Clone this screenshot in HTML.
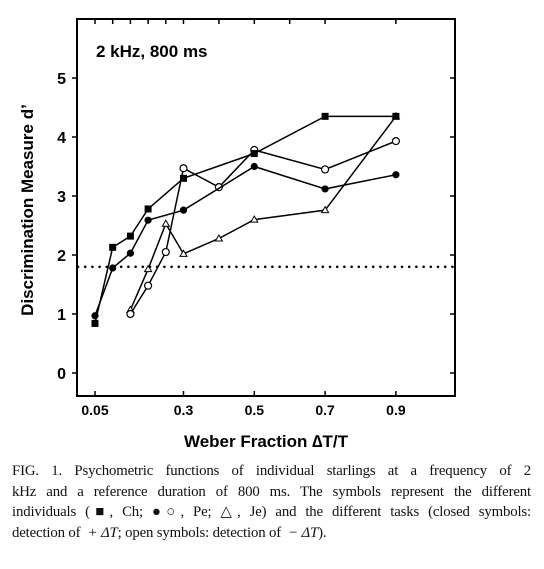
<!DOCTYPE html>
<html><head><meta charset="utf-8"><style>
body{margin:0;background:#fff;width:544px;height:569px;overflow:hidden;position:relative}
svg{position:absolute;left:0;top:0}
.cap{position:absolute;left:12px;top:461px;width:519px;font-family:"Liberation Serif",serif;font-size:14.8px;line-height:20.5px;color:#111}
.cap div{text-align:justify;text-align-last:justify;white-space:nowrap;letter-spacing:-0.15px}
.cap div.last{text-align-last:left}
</style></head><body>
<svg width="544" height="460" font-family="Liberation Sans, sans-serif">
<rect x="77" y="19" width="378" height="377" fill="none" stroke="#000" stroke-width="2"/>
<text x="96" y="57" font-size="17" font-weight="bold">2 kHz, 800 ms</text>
<text transform="translate(33,210) rotate(-90)" text-anchor="middle" font-size="17" font-weight="bold">Discrimination Measure d’</text>
<text x="266" y="447" text-anchor="middle" font-size="17" font-weight="bold">Weber Fraction ∆T/T</text>
<g id="g"></g>
</svg>
<div class="cap">
<div>FIG. 1. Psychometric functions of individual starlings at a frequency of 2</div>
<div>kHz and a reference duration of 800 ms. The symbols represent the different</div>
<div>individuals (■, Ch; ●○, Pe; △, Je) and the different tasks (closed symbols:</div>
<div class="last">detection of &nbsp;<i>+ ΔT</i>; open symbols: detection of &nbsp;<i>− ΔT</i>).</div>
</div>
<script>
const xTicks=[0.05,0.3,0.5,0.7,0.9];
const xTickLabels=["0.05","0.3","0.5","0.7","0.9"];
const topTicks=[0.05,0.1,0.15,0.2,0.25,0.3,0.4,0.5,0.6,0.7,0.9];
const yTicks=[0,1,2,3,4,5];
const chX=[0.05,0.1,0.15,0.2,0.3,0.5,0.7,0.9];
const chY=[0.84,2.13,2.32,2.78,3.30,3.72,4.35,4.35];
const peClosedX=[0.05,0.1,0.15,0.2,0.3,0.5,0.7,0.9];
const peClosedY=[0.97,1.78,2.03,2.59,2.76,3.5,3.12,3.36];
const peOpenX=[0.15,0.2,0.25,0.3,0.4,0.5,0.7,0.9];
const peOpenY=[1.0,1.48,2.05,3.47,3.15,3.78,3.45,3.93];
const jeX=[0.15,0.2,0.25,0.3,0.4,0.5,0.7,0.9];
const jeY=[1.07,1.76,2.53,2.02,2.28,2.6,2.76,4.35];
const threshold=1.8;
const sx=v=>95+(v-0.05)*354;
const sy=v=>373-59*v;
const g=document.getElementById('g');
const NS='http://www.w3.org/2000/svg';
function mk(t,a){const e=document.createElementNS(NS,t);for(const k in a)e.setAttribute(k,a[k]);g.appendChild(e);return e;}
xTicks.forEach((v,i)=>{
 const t=mk('line',{x1:sx(v),x2:sx(v),y1:396,y2:391,stroke:'#000','stroke-width':1.5});
 
 
 const l=mk('text',{x:sx(v),y:415,'text-anchor':'middle','font-size':14,'font-weight':'bold'});
 l.textContent=xTickLabels[i];
 
 
});
topTicks.forEach(v=>{
 const t=mk('line',{x1:sx(v),x2:sx(v),y1:19,y2:24,stroke:'#000','stroke-width':1.5});
 
 
});
yTicks.forEach(v=>{
 const t=mk('line',{x1:72,x2:77,y1:sy(v),y2:sy(v),stroke:'#000','stroke-width':1.5});
 
 
 const r=mk('line',{x1:450,x2:455,y1:sy(v),y2:sy(v),stroke:'#000','stroke-width':1.5});
 
 
 const l=mk('text',{x:66,y:sy(v)+6,'text-anchor':'end','font-size':16,'font-weight':'bold'});
 l.textContent=String(v);
 
 
});
const th=mk('line',{x1:78,x2:454,y1:sy(threshold),y2:sy(threshold),stroke:'#000','stroke-width':2.6,'stroke-dasharray':'0 7.2','stroke-linecap':'round'});


function series(xs,ys,name,marker){
 const p=mk('polyline',{points:xs.map((x,i)=>sx(x)+','+sy(ys[i])).join(' '),fill:'none',stroke:'#000','stroke-width':1.5});
 
 
 xs.forEach((x,i)=>{
  const cx=sx(x),cy=sy(ys[i]);let m;
  if(marker==='sq')m=mk('rect',{x:cx-3.5,y:cy-3.5,width:7,height:7,fill:'#000'});
  else if(marker==='fc')m=mk('circle',{cx,cy,r:3.6,fill:'#000'});
  else if(marker==='oc')m=mk('circle',{cx,cy,r:3.5,fill:'#fff',stroke:'#000','stroke-width':1.2});
  else m=mk('polygon',{points:`${cx},${cy-3.5} ${cx-3.5},${cy+2.5} ${cx+3.5},${cy+2.5}`,fill:'#fff',stroke:'#000','stroke-width':1});
  
  
 });
}
series(jeX,jeY,'je','tri');
series(peOpenX,peOpenY,'pe-open','oc');
series(peClosedX,peClosedY,'pe-closed','fc');
series(chX,chY,'ch','sq');
</script>
</body></html>
